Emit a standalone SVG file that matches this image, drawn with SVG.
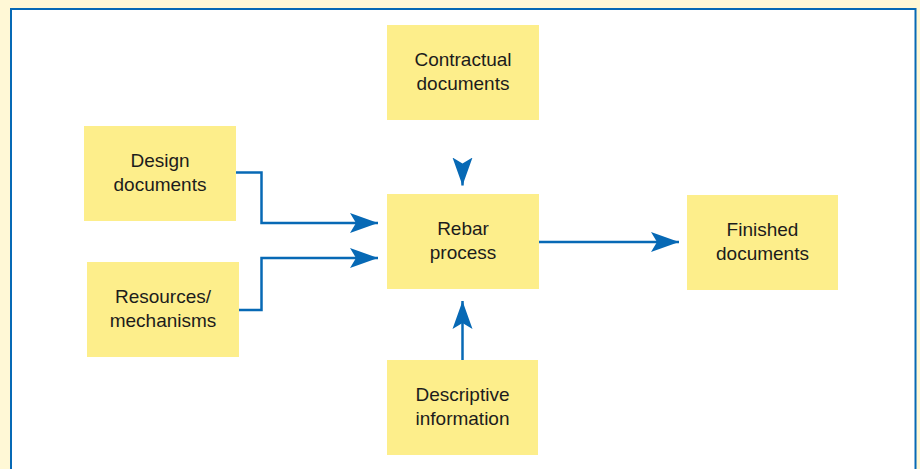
<svg xmlns="http://www.w3.org/2000/svg" width="920" height="469" viewBox="0 0 920 469">
  <style>
    .box { fill: #FDEE8B; }
    .lbl { font-family: "Liberation Sans", Arial, sans-serif; font-size: 19px; fill: #1c1c1c; text-anchor: middle; }
    .conn { fill: none; stroke: #0769B5; stroke-width: 2.5; }
  </style>
  <defs>
    <marker id="arr" markerUnits="userSpaceOnUse" markerWidth="30" markerHeight="22" viewBox="0 0 30 22" refX="28" refY="11" orient="auto">
      <path d="M0,1 L28,11 L0,21 L6,11 z" fill="#0769B5"/>
    </marker>
  </defs>
  <rect x="0" y="0" width="920" height="469" fill="#FFF8D6"/>
  <rect x="11" y="9" width="904.5" height="480" fill="#FFFFFF" stroke="#0769B5" stroke-width="2"/>

  <g id="contractual">
    <rect class="box" x="387" y="25" width="152" height="95"/>
    <text class="lbl" x="463" y="66">Contractual</text>
    <text class="lbl" x="463" y="90">documents</text>
  </g>
  <g id="design">
    <rect class="box" x="84" y="126" width="152" height="95"/>
    <text class="lbl" x="160" y="167">Design</text>
    <text class="lbl" x="160" y="191">documents</text>
  </g>
  <g id="resources">
    <rect class="box" x="87" y="262" width="152" height="95"/>
    <text class="lbl" x="163" y="303">Resources/</text>
    <text class="lbl" x="163" y="327">mechanisms</text>
  </g>
  <g id="rebar">
    <rect class="box" x="387" y="194" width="152" height="95"/>
    <text class="lbl" x="463" y="235">Rebar</text>
    <text class="lbl" x="463" y="259">process</text>
  </g>
  <g id="finished">
    <rect class="box" x="687" y="195" width="151" height="95"/>
    <text class="lbl" x="762.5" y="236">Finished</text>
    <text class="lbl" x="762.5" y="260">documents</text>
  </g>
  <g id="descriptive">
    <rect class="box" x="387" y="360" width="151" height="95"/>
    <text class="lbl" x="462.5" y="401">Descriptive</text>
    <text class="lbl" x="462.5" y="425">information</text>
  </g>

  <g id="connectors">
    <path class="conn" d="M236,172.5 H261.5 V223 H378" marker-end="url(#arr)"/>
    <path class="conn" d="M239,310 H261.5 V258 H378" marker-end="url(#arr)"/>
    <path class="conn" d="M539,242 H679" marker-end="url(#arr)"/>
    <path class="conn" d="M462.5,164 V185.5" marker-end="url(#arr)"/>
    <path class="conn" d="M462.5,360 V301" marker-end="url(#arr)"/>
  </g>
</svg>
